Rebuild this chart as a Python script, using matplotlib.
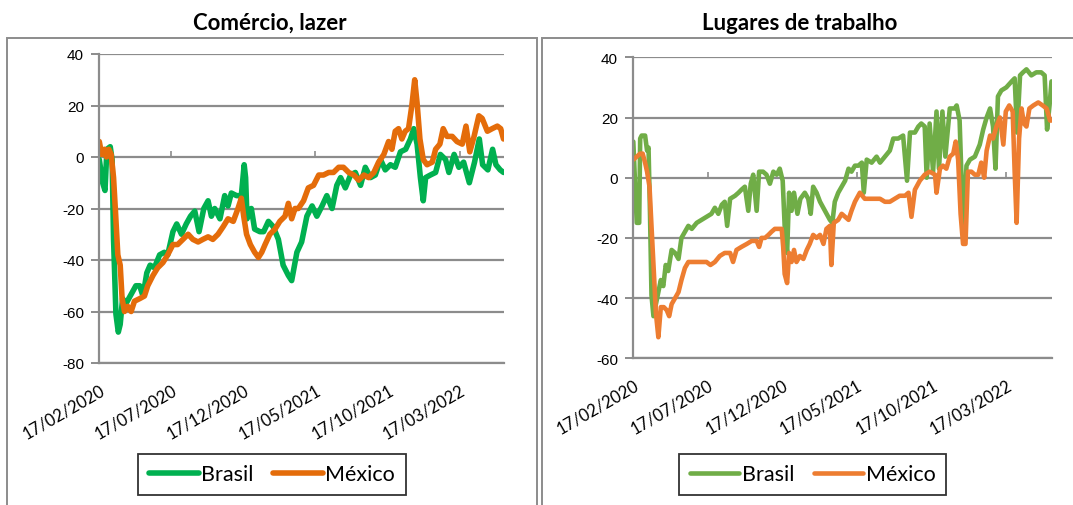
import matplotlib
matplotlib.use('Agg')
import matplotlib.pyplot as plt
import pandas as pd
from matplotlib.patches import Rectangle

# days after 17/02/2020 and values
com_br_days = [0, 7, 12, 16, 23, 27, 30, 35, 40, 44, 49, 56, 65, 77, 85, 92, 100, 107, 116, 127,
               137, 144, 155, 163, 173, 183, 192, 201, 210, 220, 229, 236, 243, 254, 264, 271, 278,
               289, 299, 305, 308, 311, 320, 327, 338, 346, 356, 366, 377, 387, 398, 405, 416, 426,
               437, 448, 458, 469, 479, 490, 500, 508, 518, 529, 539, 550, 560, 571, 581, 592, 602,
               613, 623, 634, 645, 655, 662, 669, 676, 682, 687, 697, 708, 718, 729, 736, 747, 757,
               767, 779, 790, 800, 807, 818, 828, 835, 844, 851]
com_br_vals = [-1, -10, -13, 3, 4, -1, -32, -61, -68, -65, -55, -57, -54, -50, -50, -54, -45, -42, -43, -38,
               -37, -38, -29, -26, -30, -26, -23, -21, -29, -20, -17, -23, -20, -24, -15, -19, -14,
               -15, -15, -3, -8, -24, -20, -28, -29, -29, -25, -27, -32, -42, -46, -48, -37, -33,
               -23, -19, -23, -19, -15, -20, -11, -8, -12, -7, -6, -11, -4, -8, -7, -1, -5,
               -3, -4, 2, 3, 7, 11, 5, -8, -17, -8, -7, -6, 1, -1, -6, 1, -4,
               -2, -10, -2, 7, -3, -5, 3, -3, -5, -6]

com_mx_days = [0, 5, 11, 15, 20, 25, 30, 34, 39, 44, 48, 53, 60, 67, 74, 85, 95, 102, 113, 123,
               134, 144, 155, 165, 176, 187, 197, 208, 218, 229, 239, 250, 261, 271, 282, 292, 299,
               304, 310, 318, 327, 335, 342, 349, 359, 370, 380, 391, 398, 405, 412, 419, 430, 440,
               451, 462, 472, 483, 493, 504, 514, 525, 536, 546, 557, 567, 578, 588, 599, 609, 616,
               623, 630, 637, 644, 651, 658, 664, 669, 675, 682, 690, 701, 708, 717, 724, 732, 743,
               753, 764, 772, 780, 789, 799, 806, 817, 827, 838, 845, 851]
com_mx_vals = [6, 1, 3, 0, 3, 1, -8, -21, -38, -42, -55, -60, -58, -60, -56, -55, -54, -50, -46, -43,
               -41, -38, -34, -34, -32, -30, -32, -33, -32, -31, -32, -30, -27, -24, -25, -20, -16,
               -23, -30, -34, -37, -39, -37, -34, -30, -28, -25, -23, -18, -24, -20, -20, -17, -12,
               -11, -7, -7, -6, -6, -4, -4, -6, -7, -9, -7, -8, -6, -2, 1, 6, 3,
               10, 11, 7, 10, 11, 20, 30, 21, 7, -1, -3, -2, 3, 5, 11, 8, 8,
               6, 5, 12, 2, 8, 16, 15, 10, 11, 12, 11, 7]

trab_br_days = [0, 7, 12, 14, 17, 24, 28, 31, 34, 37, 41, 46, 51, 56, 61, 66, 71, 78, 85, 92,
                98, 105, 112, 119, 129, 139, 149, 159, 166, 173, 180, 186, 191, 197, 207, 214, 220,
                227, 234, 239, 244, 251, 256, 264, 271, 278, 285, 292, 298, 304, 308, 313, 317, 322,
                327, 334, 340, 349, 356, 361, 366, 373, 380, 390, 400, 405, 410, 417, 424, 431, 438,
                444, 451, 458, 465, 469, 475, 485, 495, 502, 512, 522, 529, 539, 549, 557, 563, 573,
                580, 586, 593, 597, 603, 610, 617, 622, 629, 635, 644, 654, 658, 664, 668, 672, 678,
                685, 695, 705, 712, 719, 726, 732, 737, 742, 749, 759, 770, 776, 781, 787, 793, 800,
                810, 820, 830, 837, 842, 847, 851]
trab_br_vals = [12, -15, -15, 13, 14, 14, 9, 10, -12, -39, -46, -42, -38, -34, -36, -29, -31, -24, -25, -27,
                -20, -18, -16, -17, -15, -14, -13, -12, -10, -12, -9, -8, -16, -7, -6, -5, -4,
                -3, -11, -2, 1, -11, 2, 2, 1, -2, 2, 1, 3, -1, -16, -25, -5, -11,
                -5, -12, -7, -5, -7, -12, -3, -5, -8, -11, -14, -15, -8, -5, -3, -1, 3,
                2, 4, 4, 5, -5, 6, 5, 7, 5, 7, 9, 13, 13, 14, -1, 15, 15,
                17, 18, 17, 0, 18, 2, 22, 3, 22, 7, 23, 23, 24, 19, -1, -16, 4,
                6, 7, 11, 16, 20, 23, 17, 3, 27, 29, 30, 32, 33, 15, 34, 35, 36,
                34, 35, 35, 34, 16, 24, 32]

trab_mx_days = [0, 7, 14, 19, 24, 28, 33, 37, 42, 46, 51, 56, 62, 68, 73, 78, 85, 92, 98, 105,
                112, 119, 129, 139, 149, 157, 166, 176, 186, 197, 203, 210, 220, 231, 241, 251, 256,
                261, 268, 275, 281, 288, 295, 302, 305, 308, 313, 317, 322, 327, 332, 339, 346, 353,
                359, 366, 373, 380, 387, 393, 400, 403, 408, 417, 424, 431, 438, 444, 451, 461, 471,
                481, 492, 502, 512, 522, 532, 542, 553, 560, 566, 573, 583, 593, 603, 614, 617, 624,
                630, 637, 644, 651, 656, 661, 666, 671, 676, 681, 688, 695, 702, 708, 714, 719, 726,
                732, 739, 746, 753, 758, 765, 772, 776, 780, 785, 790, 795, 800, 806, 814, 824, 833,
                841, 848, 851]
trab_mx_vals = [6, 7, 8, 8, 5, 2, -3, -16, -32, -45, -53, -43, -43, -44, -46, -42, -40, -38, -34, -30,
                -28, -28, -28, -28, -28, -29, -28, -26, -25, -25, -28, -24, -23, -22, -21, -21, -23,
                -20, -20, -19, -18, -17, -17, -17, -23, -32, -35, -25, -28, -24, -28, -26, -27, -24,
                -22, -19, -20, -19, -22, -17, -16, -29, -15, -14, -12, -13, -14, -11, -8, -5, -7,
                -7, -7, -7, -8, -8, -7, -6, -6, -5, -13, -4, -1, 1, 2, 1, -5, 3,
                4, 3, 7, 8, 12, 6, -12, -22, -22, 2, 2, 1, 1, 5, 0, 9, 14,
                13, 17, 20, 11, 22, 24, 22, 2, -15, 13, 23, 18, 17, 23, 24, 25, 24,
                23, 19, 19]

tick_labels = ['17/02/2020', '17/07/2020', '17/12/2020', '17/05/2021', '17/10/2021', '17/03/2022']
series_names = ['Brasil', 'México']

START = pd.Timestamp('2020-02-17')
END = START + pd.Timedelta(days=852)
GRID = '#8c8c8c'


def to_dates(days):
    return START + pd.to_timedelta(days, unit='D')


def draw_panel(ax, series, colors, lw, ylim, yticks, title, title_x, leg_x):
    for (days, vals), color, name in zip(series, colors, series_names):
        ax.plot(to_dates(days), vals, color=color, lw=lw, label=name,
                solid_joinstyle='round', solid_capstyle='round')

    ax.set_xlim(START, END)
    ax.set_ylim(*ylim)
    ax.set_yticks(yticks)
    ax.set_yticklabels([str(t) for t in yticks], family='Liberation Sans', fontsize=11)
    ax.yaxis.grid(True, color=GRID, lw=1.6)
    ax.set_axisbelow(True)

    tick_dates = pd.to_datetime(tick_labels, format='%d/%m/%Y')
    ax.set_xticks(tick_dates)
    ax.set_xticklabels(tick_labels, rotation=30, ha='right', va='top',
                       rotation_mode='anchor', family='Lato', fontsize=12)
    ax.tick_params(axis='x', length=0, pad=13)
    ax.tick_params(axis='y', length=6, width=1.4, color=GRID, pad=5)

    # small marks on the zero line
    ax.vlines(tick_dates[1::2], 0, (ylim[1] - ylim[0]) * 0.018, color=GRID, lw=1.2, zorder=1)

    for side in ['top', 'right']:
        ax.spines[side].set_visible(False)
    ax.spines['left'].set_color(GRID)
    ax.spines['left'].set_linewidth(1.6)
    ax.spines['bottom'].set_color(GRID)
    ax.spines['bottom'].set_linewidth(1.6)

    fig.text(title_x, 1 - 23 / 506, title, ha='center', va='center',
             family='Lato', fontweight='bold', fontsize=16)

    leg = fig.legend(*ax.get_legend_handles_labels(), loc='center',
                     bbox_to_anchor=(leg_x, 1 - 475.5 / 506), ncol=2, frameon=True,
                     fancybox=False, edgecolor='black', prop={'family': 'Lato', 'size': 15.5},
                     handlelength=2.3, handletextpad=0.12, columnspacing=0.9,
                     borderpad=0.5)
    leg.get_frame().set_linewidth(1.3)


fig = plt.figure(figsize=(10.73, 5.06), dpi=100)

# chart-area frames
fig.patches.append(Rectangle((7.3 / 1073, -0.05), (537 - 7.3) / 1073, 1.05 - 39.3 / 506,
                             transform=fig.transFigure, fill=False, edgecolor='#8c8c8c', lw=1.4))
fig.patches.append(Rectangle((541.5 / 1073, -0.05), 0.6, 1.05 - 39.3 / 506,
                             transform=fig.transFigure, fill=False, edgecolor='#8c8c8c', lw=1.4))

ax1 = fig.add_axes([99.3 / 1073, 1 - 364 / 506, (504 - 99.3) / 1073, (364 - 55) / 506])
draw_panel(ax1, [(com_br_days, com_br_vals), (com_mx_days, com_mx_vals)],
           ['#00B050', '#E46C0A'], 4.0, (-80, 40), list(range(-80, 41, 20)),
           'Comércio, lazer', 270 / 1073, 272 / 1073)

ax2 = fig.add_axes([633.3 / 1073, 1 - 359.3 / 506, (1052 - 633.3) / 1073, (359.3 - 58.3) / 506])
draw_panel(ax2, [(trab_br_days, trab_br_vals), (trab_mx_days, trab_mx_vals)],
           ['#70AD47', '#ED7D31'], 3.3, (-60, 40), list(range(-60, 41, 20)),
           'Lugares de trabalho', 800 / 1073, 812.5 / 1073)

fig.savefig('out.png', dpi=100)
